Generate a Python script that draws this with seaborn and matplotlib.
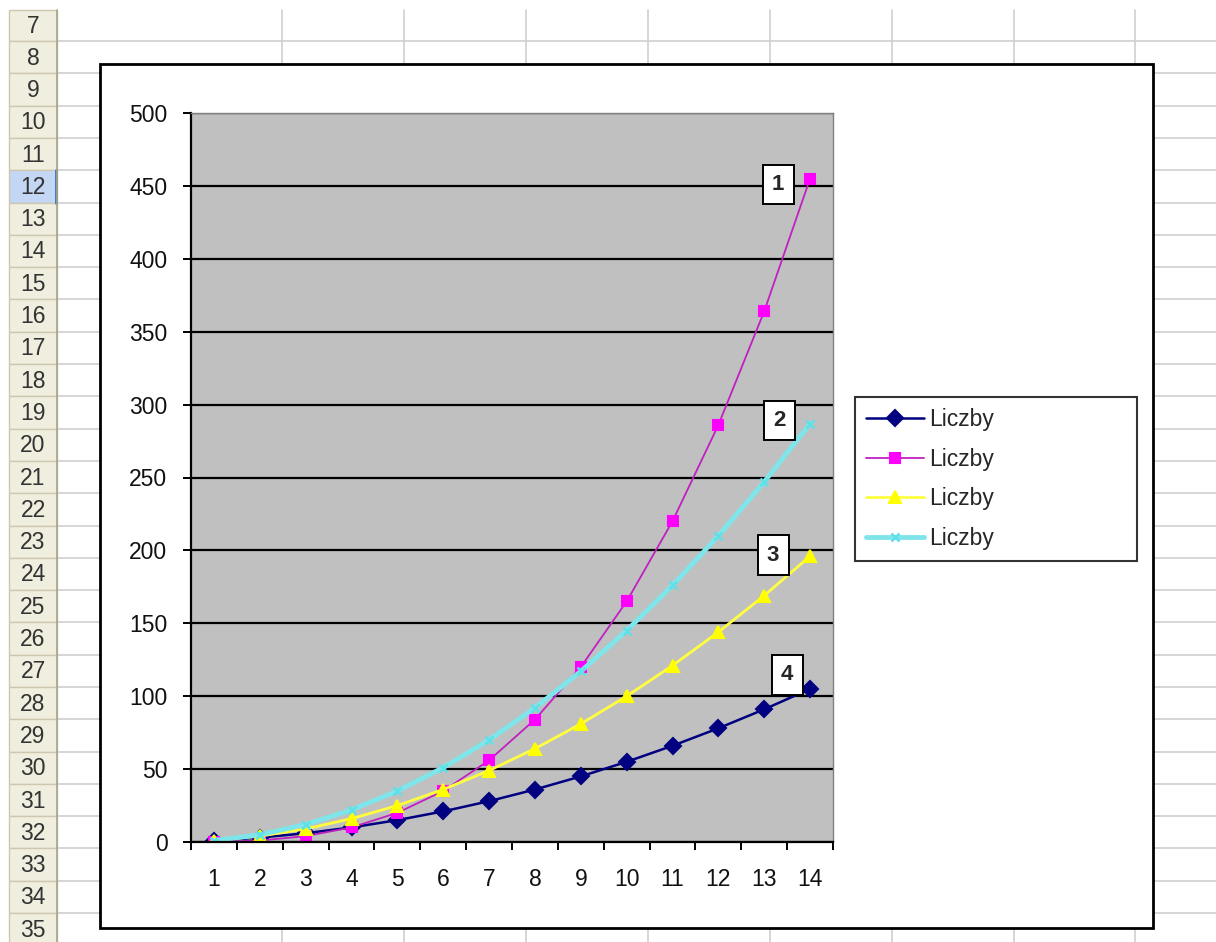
import numpy as np
import pandas as pd
import seaborn as sns
import matplotlib.pyplot as plt
from matplotlib.patches import Rectangle

# data
categories = list(range(1, 15))
series_4 = [1, 3, 6, 10, 15, 21, 28, 36, 45, 55, 66, 78, 91, 105]          # dark blue
series_1 = [0, 1, 4, 10, 20, 35, 56, 84, 120, 165, 220, 286, 364, 455]      # magenta
series_3 = [1, 4, 9, 16, 25, 36, 49, 64, 81, 100, 121, 144, 169, 196]       # yellow
series_2 = [1, 5, 12, 22, 35, 51, 70, 92, 117, 145, 176, 210, 247, 287]     # cyan
legend_label = 'Liczby'
y_ticks = list(range(0, 501, 50))
row_numbers = list(range(7, 36))
selected_row = 12

W, H = 1216, 942
sns.set_theme(style='white')
plt.rcParams['font.family'] = ['Liberation Sans', 'DejaVu Sans']

fig = plt.figure(figsize=(W / 100, H / 100), dpi=100)
fig.patch.set_facecolor('white')

# ---- spreadsheet background ----
bg = fig.add_axes([0, 0, 1, 1], zorder=0)
bg.set_xlim(0, W)
bg.set_ylim(H, 0)
bg.axis('off')

row_top0 = 10
row_h = 32.3
first_bound = 41
bounds = [row_top0] + [first_bound + row_h * i for i in range(len(row_numbers))]
grid_c = '#cfcfcf'
# column lines
for cx in [282, 404, 526, 648, 770, 892, 1014, 1135]:
    bg.plot([cx, cx], [row_top0, H], color=grid_c, lw=1.2)
# row lines
for by in bounds[1:]:
    bg.plot([57, W], [by, by], color=grid_c, lw=1.2)
# row header
for i, r in enumerate(row_numbers):
    y0 = bounds[i]
    y1 = bounds[i + 1] if i + 1 < len(bounds) else H
    fc = '#c3d6f3' if r == selected_row else '#f0eedf'
    bg.add_patch(Rectangle((9, y0), 48, y1 - y0, fc=fc, ec='#cdc8ad', lw=1))
    if r == selected_row:
        bg.plot([56, 56], [y0, y1], color='#3a6fc8', lw=2)
    bg.text(33, (y0 + y1) / 2 + 1, str(r), ha='center', va='center',
            fontsize=16.5, color='#333333')
bg.plot([57, 57], [row_top0, H], color='#a8a48c', lw=1.2)

# chart area
bg.add_patch(Rectangle((100, 64), 1053, 864, fc='white', ec='black', lw=2, zorder=5))

# ---- plot area ----
left, right, top, bottom = 191, 833, 113, 842
ax = fig.add_axes([left / W, 1 - bottom / H, (right - left) / W, (bottom - top) / H], zorder=2)
ax.set_facecolor('#c0c0c0')

pos = np.arange(len(categories))
styles = [
    (series_4, '#000080', '#000080', 'D', 8, 1.8),
    (series_1, '#c020c0', '#ff00ff', 's', 7.5, 1.3),
    (series_3, '#ffff40', '#ffff00', '^', 9, 2.0),
    (series_2, '#7ee6ea', '#5ee0e8', 'x', 6, 3.5),
]
for vals, lc, mc, mk, ms, lw in styles:
    sns.lineplot(x=pos, y=vals, ax=ax, color=lc, lw=lw, marker=mk, markersize=ms,
                 markerfacecolor=mc, markeredgecolor=mc, markeredgewidth=1.5 if mk != 'x' else 1.8,
                 label=legend_label)

ax.set_xlim(-0.5, len(categories) - 0.5)
ax.set_ylim(0, 500)
ax.set_yticks(y_ticks)
ax.yaxis.grid(True, color='black', lw=1.6)
ax.xaxis.grid(False)
ax.set_axisbelow(True)

ax.set_xticks(np.arange(-0.5, len(categories), 1.0))
ax.set_xticklabels([])
ax.set_xticks(pos, minor=True)
ax.set_xticklabels([str(c) for c in categories], minor=True, fontsize=16.5, color='#111111')
ax.tick_params(axis='x', which='major', direction='out', length=6, width=1.4, color='black', bottom=True)
ax.tick_params(axis='x', which='minor', length=0, pad=19, bottom=True)
ax.tick_params(axis='y', direction='out', length=6, width=1.4, color='black', left=True,
               labelsize=16.5, labelcolor='#111111', pad=11)

for side in ['left', 'bottom']:
    ax.spines[side].set_color('black')
    ax.spines[side].set_linewidth(1.6)
for side in ['top', 'right']:
    ax.spines[side].set_color('#808080')
    ax.spines[side].set_linewidth(1.0)

# series number boxes next to the last points
box_labels = [('4', series_4, -23, 14), ('1', series_1, -32, -6),
              ('3', series_3, -37, 1), ('2', series_2, -31, 3)]
for txt, vals, dx, dy in box_labels:
    ax.annotate(txt, xy=(pos[-1], vals[-1]), xytext=(dx, dy), textcoords='offset pixels',
                ha='center', va='center', fontsize=16, fontweight='bold', zorder=10,
                bbox=dict(boxstyle='square,pad=0.42', fc='white', ec='black', lw=1.4))

leg = ax.legend(loc='upper left', bbox_to_anchor=(855 / W, 1 - 557 / H, 282 / W, 160 / H),
                bbox_transform=fig.transFigure, mode='expand', borderaxespad=0,
                fontsize=16.5, frameon=True, fancybox=False, handlelength=2.5,
                handletextpad=0.25, labelspacing=0.72, borderpad=0.5)
leg.get_frame().set_edgecolor('black')
leg.get_frame().set_linewidth(1.5)

fig.savefig('out.png', dpi=100)
